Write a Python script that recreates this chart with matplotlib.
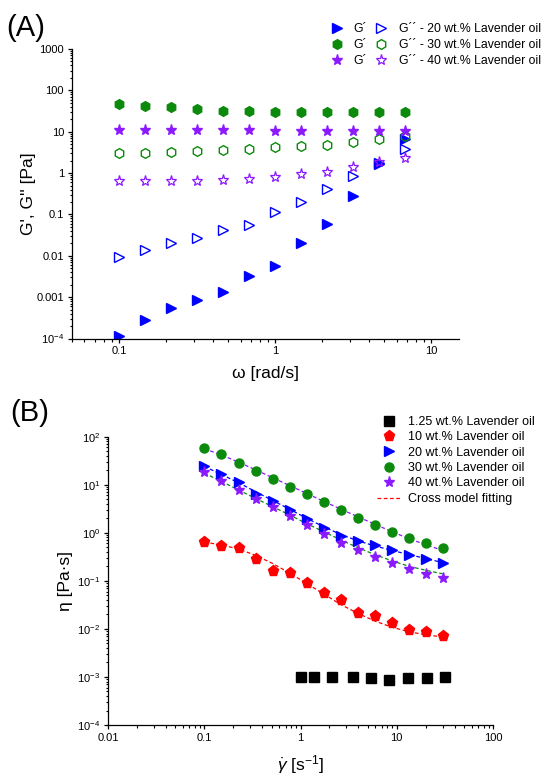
import numpy as np
import matplotlib
matplotlib.use('Agg')
import matplotlib.pyplot as plt
from matplotlib.ticker import LogLocator, NullFormatter, FixedLocator, FixedFormatter

plt.rcParams['font.family'] = ['Liberation Sans', 'DejaVu Sans']
plt.rcParams['mathtext.fontset'] = 'custom'
plt.rcParams['mathtext.rm'] = 'Liberation Sans'
plt.rcParams['mathtext.it'] = 'Liberation Sans:italic'

# (A) frequency sweep
freq = [0.1, 0.147, 0.215, 0.316, 0.464, 0.681, 1.0, 1.47, 2.15, 3.16, 4.64, 6.81]
g1_20 = [1.13e-4, 2.85e-4, 5.6e-4, 8.4e-4, 1.34e-3, 3.3e-3, 5.6e-3, 0.0205, 0.059, 0.277, 1.65, 6.65]
g2_20 = [0.0096, 0.0137, 0.0202, 0.027, 0.042, 0.055, 0.117, 0.20, 0.41, 0.85, 1.8, 3.8]
g1_30 = [48, 43, 39, 35, 32, 31, 30.5, 30, 29.5, 30, 30, 30]
g2_30 = [3.1, 3.05, 3.15, 3.4, 3.6, 3.9, 4.2, 4.5, 4.85, 5.5, 6.5, 7.9]
g1_40 = [11.2, 11.1, 11.0, 10.9, 10.8, 10.7, 10.6, 10.5, 10.4, 10.3, 10.2, 10.2]
g2_40 = [0.64, 0.64, 0.64, 0.63, 0.68, 0.73, 0.81, 0.96, 1.09, 1.44, 1.85, 2.26]
ticks_a = [1e-4, 1e-3, 1e-2, 1e-1, 1, 10, 100, 1000]
ticklabels_a = ['10$^{-4}$', '0.001', '0.01', '0.1', '1', '10', '100', '1000']

# (B) flow curves
rate = [0.1, 0.15, 0.227, 0.341, 0.513, 0.772, 1.16, 1.75, 2.63, 3.96, 5.96, 8.97, 13.5, 20.3, 30.0]
rate_125 = [1.0, 1.39, 2.13, 3.51, 5.45, 8.4, 13.1, 20.4, 31.8]
eta_125 = [1.0e-3, 1.0e-3, 1.0e-3, 1.01e-3, 0.97e-3, 0.88e-3, 0.93e-3, 0.96e-3, 0.98e-3]
eta_10 = [0.64, 0.53, 0.48, 0.28, 0.158, 0.147, 0.092, 0.056, 0.039, 0.0219, 0.0187, 0.0135,
          0.0097, 0.0087, 0.0071]
eta_20 = [24.4, 16.9, 11.3, 6.5, 4.49, 3.0, 1.96, 1.27, 0.87, 0.68, 0.55, 0.44, 0.35, 0.29, 0.23]
eta_30 = [57.9, 43.4, 28.2, 18.9, 13.1, 9.1, 6.3, 4.3, 3.0, 2.08, 1.44, 1.03, 0.77, 0.61, 0.48]
eta_40 = [18.3, 11.9, 7.6, 5.0, 3.48, 2.26, 1.42, 0.935, 0.62, 0.43, 0.31, 0.23, 0.178, 0.14, 0.113]
fit_10 = [0.64, 0.56, 0.46, 0.34, 0.23, 0.145, 0.088, 0.053, 0.032, 0.021, 0.0145, 0.0108,
          0.0087, 0.0075, 0.0068]
fit_20 = [24, 16.5, 11, 7.2, 4.7, 3.1, 2.0, 1.33, 0.92, 0.68, 0.53, 0.43, 0.35, 0.29, 0.24]
fit_30 = [56, 42, 29.5, 20.5, 14, 9.6, 6.6, 4.5, 3.1, 2.15, 1.5, 1.05, 0.75, 0.56, 0.43]
fit_40 = [17.5, 11.8, 7.8, 5.2, 3.5, 2.35, 1.55, 1.05, 0.71, 0.49, 0.35, 0.26, 0.2, 0.165, 0.14]
ticks_b = [1e-4, 1e-3, 1e-2, 1e-1, 1, 10, 100]
ticklabels_b = ['10$^{-4}$', '10$^{-3}$', '10$^{-2}$', '10$^{-1}$', '10$^{0}$', '10$^{1}$', '10$^{2}$']
xticks_b = [0.01, 0.1, 1, 10, 100]
xticklabels_b = ['0.01', '0.1', '1', '10', '100']

BLUE = '#0000FF'
GREEN = '#0B8A0B'
PURPLE = '#8B1AFF'
RED = '#FF0000'


def style_axes(ax):
    for s in ['top', 'right']:
        ax.spines[s].set_visible(False)
    for s in ['left', 'bottom']:
        ax.spines[s].set_linewidth(0.9)
    ax.tick_params(which='major', direction='out', length=3.2, width=0.9, labelsize=8, pad=2.5)
    ax.tick_params(which='minor', direction='out', length=1.8, width=0.8)
    ax.yaxis.set_minor_locator(LogLocator(base=10, subs=np.arange(2, 10), numticks=20))
    ax.yaxis.set_minor_formatter(NullFormatter())
    ax.xaxis.set_minor_locator(LogLocator(base=10, subs=np.arange(2, 10), numticks=20))
    ax.xaxis.set_minor_formatter(NullFormatter())


fig = plt.figure(figsize=(5.5, 7.83), dpi=100)

# ---------------- (A)
ax1 = fig.add_axes([72 / 550, 1 - 338.5 / 783, 387 / 550, 289.5 / 783])
ax1.set_xscale('log')
ax1.set_yscale('log')
h1, = ax1.plot(freq, g1_20, ls='none', marker='>', ms=6.5, color=BLUE, mec=BLUE)
h2, = ax1.plot(freq, g2_20, ls='none', marker='>', ms=6.5, color=BLUE, mfc='none', mew=1)
h3, = ax1.plot(freq, g1_30, ls='none', marker='h', ms=7, color=GREEN)
h4, = ax1.plot(freq, g2_30, ls='none', marker='h', ms=7, color=GREEN, mfc='none', mew=1)
h5, = ax1.plot(freq, g1_40, ls='none', marker='*', ms=8, color=PURPLE)
h6, = ax1.plot(freq, g2_40, ls='none', marker='*', ms=8, color=PURPLE, mfc='none', mew=0.9)
ax1.set_xlim(0.05, 15)
ax1.set_ylim(1e-4, 1000)
style_axes(ax1)
ax1.yaxis.set_major_locator(FixedLocator(ticks_a))
ax1.yaxis.set_major_formatter(FixedFormatter(ticklabels_a))
ax1.set_xticks([0.1, 1, 10])
ax1.set_xticklabels(['0.1', '1', '10'])
ax1.set_xlabel('\u03c9 [rad/s]', fontsize=12.5, labelpad=7)
ax1.set_ylabel("G', G'' [Pa]", fontsize=12.5, labelpad=0)

leg_kw = dict(loc='upper left', bbox_transform=fig.transFigure, frameon=False, borderpad=0,
              borderaxespad=0, numpoints=1, handlelength=0.8, labelspacing=0.3,
              prop={'size': 8.8})
leg1 = ax1.legend([h1, h3, h5], ['G\u00b4'] * 3, bbox_to_anchor=(332 / 550, 1 - 23.5 / 783),
                  handletextpad=0.92, **leg_kw)
ax1.add_artist(leg1)
ax1.legend([h2, h4, h6],
           ['G\u00b4\u00b4 - 20 wt.% Lavender oil', 'G\u00b4\u00b4 - 30 wt.% Lavender oil',
            'G\u00b4\u00b4 - 40 wt.% Lavender oil'],
           bbox_to_anchor=(376 / 550, 1 - 23.5 / 783), handletextpad=1.08, **leg_kw)

fig.text(6 / 550, 1 - 28 / 783, '(A)', fontsize=21, va='center', ha='left')

# ---------------- (B)
ax2 = fig.add_axes([108 / 550, 1 - 725 / 783, 385 / 550, 288.3 / 783])
ax2.set_xscale('log')
ax2.set_yscale('log')
ax2.plot(rate, fit_30, ls=(0, (3, 2)), lw=0.9, color=PURPLE)
ax2.plot(rate, fit_20, ls=(0, (3, 2)), lw=0.9, color=BLUE)
ax2.plot(rate, fit_40, ls=(0, (3, 2)), lw=0.9, color=GREEN)
ax2.plot(rate, fit_10, ls=(0, (3, 2)), lw=0.9, color=RED)
b1, = ax2.plot(rate_125, eta_125, ls='none', marker='s', ms=6.5, color='black')
b2, = ax2.plot(rate, eta_10, ls='none', marker='p', ms=8, color=RED)
b3, = ax2.plot(rate, eta_20, ls='none', marker='>', ms=7, color=BLUE)
b4, = ax2.plot(rate, eta_30, ls='none', marker='o', ms=6.5, color=GREEN)
b5, = ax2.plot(rate, eta_40, ls='none', marker='*', ms=8, color=PURPLE)
bl, = ax2.plot([], [], ls=(0, (3, 2)), lw=0.9, color=RED)
ax2.set_xlim(0.01, 100)
ax2.set_ylim(1e-4, 100)
style_axes(ax2)
ax2.yaxis.set_major_locator(FixedLocator(ticks_b))
ax2.yaxis.set_major_formatter(FixedFormatter(ticklabels_b))
ax2.set_xticks(xticks_b)
ax2.set_xticklabels(xticklabels_b)
ax2.set_xlabel('$\\dot{\\gamma}$ [s$^{-1}$]', fontsize=12.5, labelpad=7)
ax2.set_ylabel('\u03b7 [Pa\u00b7s]', fontsize=12.5, labelpad=3)
ax2.legend([b1, b2, b3, b4, b5, bl],
           ['1.25 wt.% Lavender oil', '10 wt.% Lavender oil', '20 wt.% Lavender oil',
            '30 wt.% Lavender oil', '40 wt.% Lavender oil', 'Cross model fitting'],
           loc='upper left', bbox_to_anchor=(376.5 / 550, 1 - 416 / 783),
           bbox_transform=fig.transFigure, frameon=False, borderpad=0, borderaxespad=0,
           numpoints=1, handlelength=1.94, handletextpad=0.61, labelspacing=0.27,
           prop={'size': 9})

fig.text(10 / 550, 1 - 413 / 783, '(B)', fontsize=21, va='center', ha='left')

fig.savefig('out.png', dpi=100)
